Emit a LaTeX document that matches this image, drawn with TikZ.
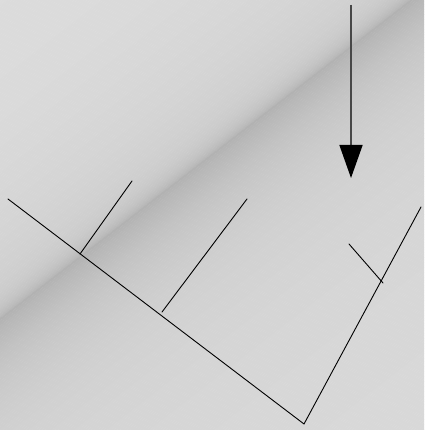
\documentclass[tikz,border=0pt]{standalone}
\usetikzlibrary{arrows.meta}
\tikzset{
  branch/.style={draw=black, line width=0.9pt, line cap=round},
  shaft/.style={draw=black!72, line width=1.5pt},
}
\begin{document}
\begin{tikzpicture}[x=1pt,y=1pt]
\useasboundingbox (0,0) rectangle (424,430);
\begin{scope}
\clip (0,0) rectangle (424,430);
\begin{scope}[shift={(0,112)}, rotate=37.8]
\foreach \d in {-270,-268,...,360} {
  \pgfmathsetmacro\dm{min(\d,0)}
  \pgfmathsetmacro\dp{max(\d,0)}
  \pgfmathsetmacro\ea{exp(max(\dm/90,-8))}
  \pgfmathsetmacro\eb{exp(max(\dm/9,-8))}
  \pgfmathsetmacro\ec{exp(max(-\dp/110,-8))}
  \pgfmathsetmacro\ed{exp(max(-\dp/38,-8))}
  \pgfmathsetmacro\g{\d<0 ? 0.865-0.07*\ea-0.09*\eb : 0.85-0.06*\ec-0.09*\ed}
  \definecolor{bgc}{gray}{\g}
  \fill[bgc] (-900,-\d) rectangle (900,-\d-2.3);
}
\end{scope}
\end{scope}
% coordinates (y up, pixel based)
\coordinate (A) at (8,231);
\coordinate (B) at (304,6);
\coordinate (C) at (421,223);
\coordinate (b1s) at (80,176);
\coordinate (b1e) at (132,249);
\coordinate (b2s) at (162,118);
\coordinate (b2e) at (247,231);
\coordinate (b3s) at (383,147);
\coordinate (b3e) at (349,186);
\coordinate (arrs) at (351,425);
\coordinate (arrt) at (351,252);
\draw[branch] (A) -- (B) -- (C);
\draw[branch] (b1s) -- (b1e);
\draw[branch] (b2s) -- (b2e);
\draw[branch] (b3s) -- (b3e);
\draw[shaft, -{Triangle[width=23pt,length=33pt,color=black]}] (arrs) -- (arrt);
\end{tikzpicture}
\end{document}
